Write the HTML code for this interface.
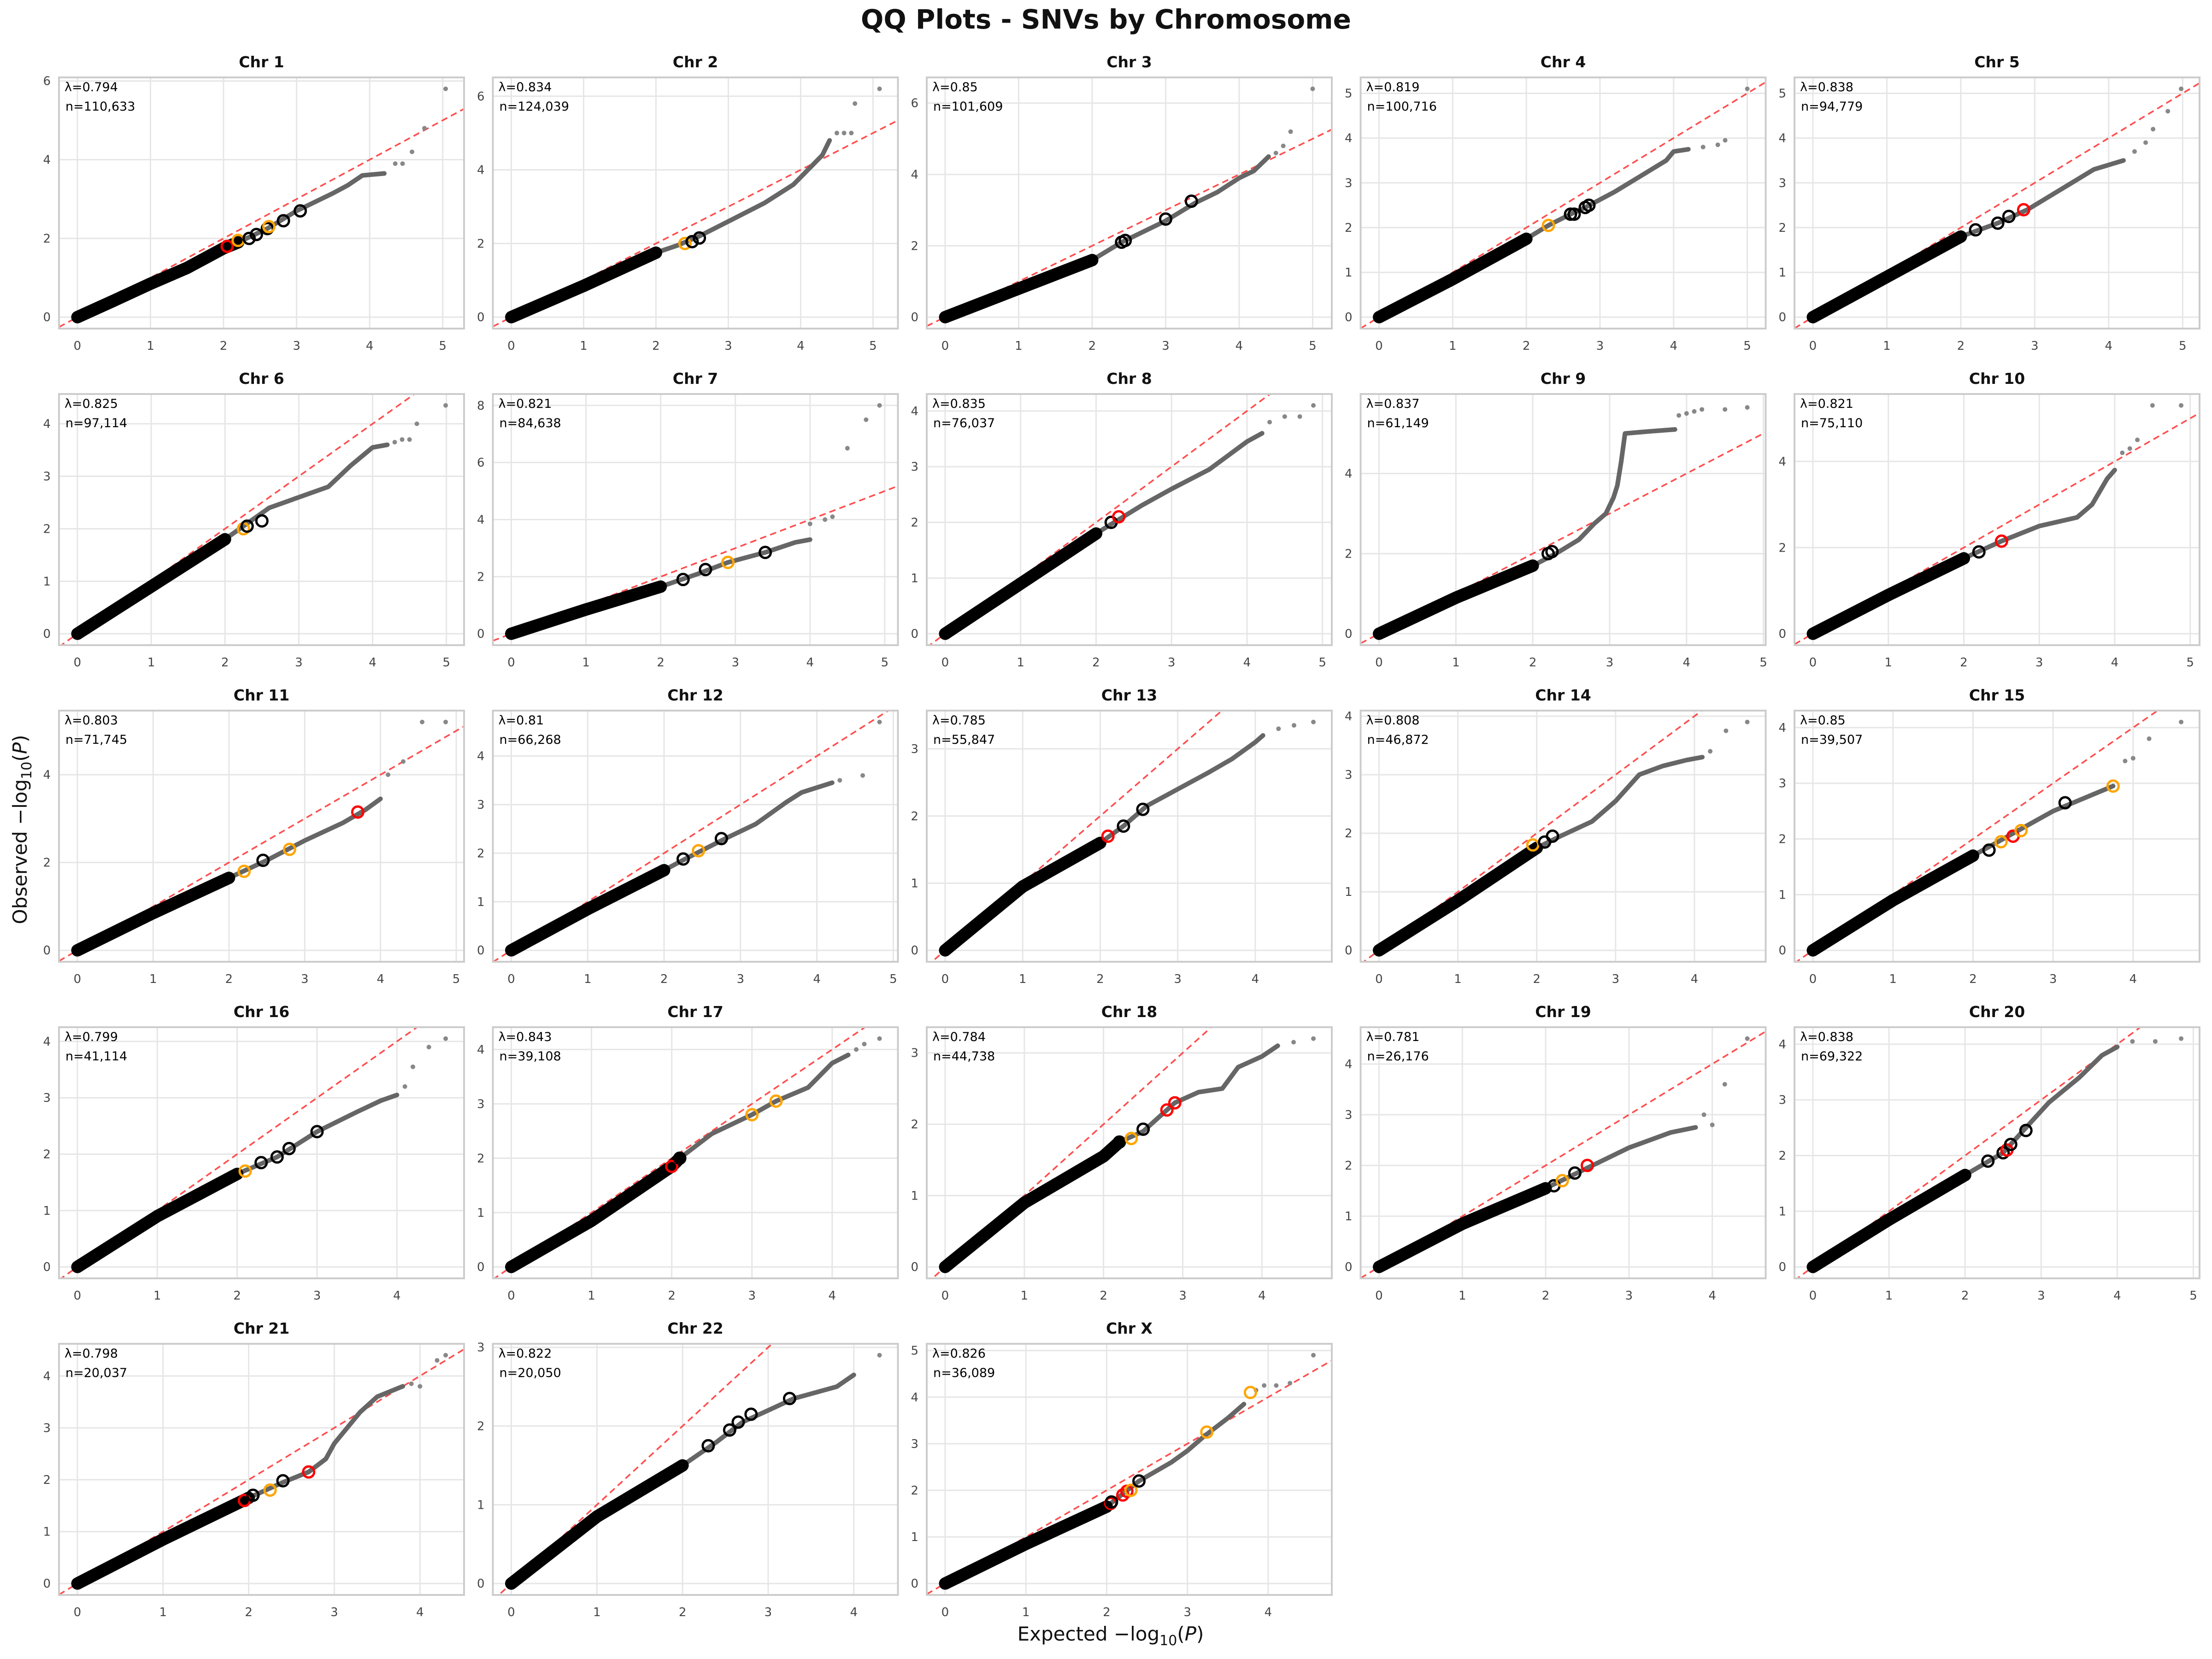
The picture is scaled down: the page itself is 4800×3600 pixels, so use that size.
<!DOCTYPE html>
<html><head><meta charset="utf-8">
<style>
html,body{margin:0;padding:0;background:#fff;}
svg{display:block;font-family:"DejaVu Sans","Liberation Sans",sans-serif;}
</style></head>
<body>
<svg id="fig" width="4800" height="3600" viewBox="0 0 4800 3600" xmlns="http://www.w3.org/2000/svg">
<rect x="0" y="0" width="4800" height="3600" fill="#fff"/>
<text x="2400" y="62" text-anchor="middle" font-size="58" font-weight="bold" fill="#111">QQ Plots - SNVs by Chromosome</text>
<text x="2410" y="3560" text-anchor="middle" font-size="42" fill="#111">Expected −log<tspan font-size="30" dy="10">10</tspan><tspan dy="-10">(</tspan><tspan font-style="italic">P</tspan>)</text>
<text transform="translate(58,1800) rotate(-90)" text-anchor="middle" font-size="42" fill="#111">Observed −log<tspan font-size="30" dy="10">10</tspan><tspan dy="-10">(</tspan><tspan font-style="italic">P</tspan>)</text>
<g id="panels"></g>
</svg>
<script>
const chromNames = ["Chr 1","Chr 2","Chr 3","Chr 4","Chr 5","Chr 6","Chr 7","Chr 8","Chr 9","Chr 10","Chr 11","Chr 12","Chr 13","Chr 14","Chr 15","Chr 16","Chr 17","Chr 18","Chr 19","Chr 20","Chr 21","Chr 22","Chr X"];
const lambdaLabels = ["0.794","0.834","0.85","0.819","0.838","0.825","0.821","0.835","0.837","0.821","0.803","0.81","0.785","0.808","0.85","0.799","0.843","0.784","0.781","0.838","0.798","0.822","0.826"];
const nLabels = ["110,633","124,039","101,609","100,716","94,779","97,114","84,638","76,037","61,149","75,110","71,745","66,268","55,847","46,872","39,507","41,114","39,108","44,738","26,176","69,322","20,037","20,050","36,089"];
const maxExpected = [5.04,5.09,5.01,5.0,4.98,4.99,4.93,4.88,4.79,4.88,4.86,4.82,4.75,4.67,4.6,4.61,4.59,4.65,4.42,4.84,4.3,4.3,4.56];
const maxObserved = [5.8,6.2,6.4,5.1,5.1,4.35,8.0,4.1,5.7,5.3,5.2,4.7,3.4,3.9,4.1,4.05,4.2,3.2,4.5,4.1,4.4,2.9,4.9];
const yTickStep = [2,2,2,1,1,1,2,1,2,2,2,1,1,1,1,1,1,1,1,1,1,1,1];
const curveExp = [
 [0,0.5,1,1.5,2,2.2,2.6,3,3.5,3.7,3.9,4.2],
 [0,1,2,2.3,2.6,3,3.5,3.9,4.1,4.3,4.4],
 [0,1,2,2.4,3,3.4,3.7,4,4.2,4.4],
 [0,1,2,2.3,2.6,2.8,3.2,3.6,3.9,4,4.2],
 [0,1,2,2.5,2.9,3.5,3.8,4,4.2],
 [0,1,2,2.3,2.6,3,3.4,3.7,4,4.2],
 [0,1,2,2.5,2.9,3.4,3.8,4],
 [0,1,2,2.3,2.6,3,3.5,4,4.2],
 [0,1,2,2.3,2.6,2.8,2.95,3.05,3.1,3.15,3.2,3.5,3.85],
 [0,1,2,2.5,3,3.5,3.7,3.9,4],
 [0,1,2,2.5,3,3.5,3.8,4],
 [0,1,2,2.3,2.8,3.2,3.6,3.8,4.2],
 [0,1,2,2.3,2.6,3,3.4,3.7,4,4.1],
 [0,1,2,2.3,2.7,3,3.3,3.6,3.9,4.1],
 [0,1,1.5,2,2.5,3,3.5,3.75],
 [0,1,2,2.5,3,3.5,3.8,4],
 [0,1,2,2.1,2.5,3,3.3,3.7,4,4.2],
 [0,1,2,2.2,2.5,2.9,3.2,3.5,3.7,4,4.2],
 [0,1,2,2.5,3,3.5,3.8],
 [0,1,2,2.5,2.8,3.1,3.5,3.8,4],
 [0,1,2,2.4,2.7,2.9,3,3.3,3.5,3.8],
 [0,1,2,2.4,2.7,3,3.3,3.8,4],
 [0,1,2,2.4,2.8,3,3.2,3.5,3.7]
];
const curveObs = [
 [0,0.42,0.85,1.25,1.75,1.9,2.25,2.7,3.15,3.35,3.6,3.65],
 [0,0.85,1.75,1.95,2.2,2.6,3.1,3.6,4.0,4.4,4.8],
 [0,0.8,1.6,2.1,2.7,3.2,3.5,3.9,4.1,4.5],
 [0,0.85,1.75,2.05,2.3,2.45,2.8,3.2,3.5,3.7,3.75],
 [0,0.9,1.8,2.1,2.4,3.0,3.3,3.4,3.5],
 [0,0.9,1.8,2.1,2.4,2.6,2.8,3.2,3.55,3.6],
 [0,0.85,1.65,2.1,2.5,2.85,3.2,3.3],
 [0,0.9,1.8,2.05,2.3,2.6,2.95,3.45,3.6],
 [0,0.9,1.7,2.0,2.35,2.75,3.0,3.4,3.7,4.3,5.0,5.05,5.1],
 [0,0.9,1.75,2.15,2.5,2.7,3.0,3.6,3.8],
 [0,0.85,1.65,2.05,2.5,2.9,3.2,3.45],
 [0,0.85,1.65,1.9,2.3,2.6,3.05,3.25,3.45],
 [0,0.95,1.6,1.85,2.15,2.4,2.65,2.85,3.1,3.2],
 [0,0.85,1.75,1.95,2.2,2.55,3.0,3.15,3.25,3.3],
 [0,0.9,1.3,1.7,2.1,2.5,2.8,2.95],
 [0,0.9,1.65,1.95,2.4,2.75,2.95,3.05],
 [0,0.85,1.85,2.0,2.45,2.8,3.05,3.3,3.75,3.9],
 [0,0.9,1.55,1.75,1.9,2.3,2.45,2.5,2.8,2.95,3.1],
 [0,0.85,1.55,1.95,2.35,2.65,2.75],
 [0,0.85,1.65,2.05,2.5,2.95,3.4,3.8,3.95],
 [0,0.85,1.65,1.95,2.15,2.4,2.7,3.3,3.6,3.8],
 [0,0.85,1.5,1.8,2.05,2.2,2.35,2.5,2.65],
 [0,0.85,1.65,2.2,2.6,2.85,3.15,3.55,3.85]
];
const tailExp = [
 [4.35,4.45,4.58,4.75,5.04],[4.5,4.6,4.7,4.75,5.09],[4.5,4.6,4.7,5.0],[4.4,4.6,4.7,5.0],[4.35,4.5,4.6,4.8,4.98],
 [4.3,4.4,4.5,4.6,4.99],[4.0,4.2,4.3,4.5,4.75,4.93],[4.3,4.5,4.7,4.88],[3.9,4.0,4.1,4.2,4.5,4.79],[4.1,4.2,4.3,4.5,4.88],
 [4.1,4.3,4.55,4.86],[4.3,4.6,4.82],[4.3,4.5,4.75],[4.2,4.4,4.67],[3.9,4.0,4.2,4.6],
 [4.1,4.2,4.4,4.61],[4.3,4.4,4.59],[4.4,4.65],[3.9,4.0,4.15,4.42],[4.2,4.5,4.84],
 [3.9,4.0,4.2,4.3],[4.3],[3.85,3.95,4.1,4.27,4.56]
];
const tailObs = [
 [3.9,3.9,4.2,4.8,5.8],[5.0,5.0,5.0,5.8,6.2],[4.6,4.8,5.2,6.4],[3.8,3.85,3.95,5.1],[3.7,3.9,4.2,4.6,5.1],
 [3.65,3.7,3.7,4.0,4.35],[3.85,4.0,4.1,6.5,7.5,8.0],[3.8,3.9,3.9,4.1],[5.45,5.5,5.55,5.6,5.6,5.65],[4.2,4.3,4.5,5.3,5.3],
 [4.0,4.3,5.2,5.2],[3.5,3.6,4.7],[3.3,3.35,3.4],[3.4,3.75,3.9],[3.4,3.45,3.8,4.1],
 [3.2,3.55,3.9,4.05],[4.0,4.1,4.2],[3.15,3.2],[3.0,2.8,3.6,4.5],[4.05,4.05,4.1],
 [3.85,3.8,4.3,4.4],[2.9],[4.15,4.25,4.25,4.3,4.9]
];
const hitExp = [
 [2.05,2.2,2.35,2.45,2.6,2.62,2.82,3.05],[2.4,2.5,2.6],[2.4,2.45,3.0,3.35],[2.3,2.6,2.65,2.8,2.85],[2.2,2.5,2.65,2.85],
 [2.25,2.3,2.5],[2.3,2.6,2.9,3.4],[2.2,2.3],[2.2,2.25],[2.2,2.5],
 [2.2,2.45,2.8,3.7],[2.25,2.45,2.75],[2.1,2.3,2.55],[1.95,2.1,2.2],[2.2,2.35,2.5,2.6,3.15,3.75],
 [2.1,2.3,2.5,2.65,3.0],[2.0,2.1,3.0,3.3],[2.2,2.35,2.5,2.8,2.9],[2.1,2.2,2.35,2.5],[2.3,2.5,2.55,2.6,2.8],
 [1.95,2.05,2.25,2.4,2.7],[2.3,2.55,2.65,2.8,3.25],[2.05,2.06,2.2,2.25,2.3,2.4,3.24,3.78]
];
const hitObs = [
 [1.8,1.95,2.0,2.1,2.25,2.3,2.45,2.7],[2.0,2.05,2.15],[2.1,2.15,2.75,3.25],[2.05,2.3,2.3,2.45,2.5],[1.95,2.1,2.25,2.4],
 [2.0,2.05,2.15],[1.9,2.25,2.5,2.85],[2.0,2.1],[2.0,2.05],[1.9,2.15],
 [1.8,2.05,2.3,3.15],[1.88,2.05,2.3],[1.7,1.85,2.1],[1.8,1.85,1.95],[1.8,1.95,2.05,2.15,2.65,2.95],
 [1.7,1.85,1.95,2.1,2.4],[1.85,2.0,2.8,3.05],[1.75,1.8,1.93,2.2,2.3],[1.6,1.7,1.85,2.0],[1.9,2.05,2.1,2.2,2.45],
 [1.6,1.7,1.8,1.98,2.15],[1.75,1.95,2.05,2.15,2.35],[1.72,1.75,1.9,1.98,2.0,2.2,3.25,4.1]
];
const hitColor = [
 ["red","orange","black","black","black","orange","black","black"],["orange","black","black"],["black","black","black","black"],["orange","black","black","black","black"],["black","black","black","red"],
 ["orange","black","black"],["black","black","orange","black"],["black","red"],["black","black"],["black","red"],
 ["orange","black","orange","red"],["black","orange","black"],["red","black","black"],["orange","black","black"],["black","orange","red","orange","black","orange"],
 ["orange","black","black","black","black"],["red","black","orange","orange"],["black","orange","black","red","red"],["black","orange","black","red"],["black","black","red","black","black"],
 ["red","black","orange","black","red"],["black","black","black","black","black"],["red","black","red","red","orange","black","orange","orange"]
];
const colorMap = {black:"#000000", orange:"#ffa500", red:"#ff0000"};
const denseLimit = 2.25;

const NS = "http://www.w3.org/2000/svg";
const root = document.getElementById('panels');
function mk(tag, attrs, parent){ const e=document.createElementNS(NS,tag); for(const k in attrs) e.setAttribute(k,attrs[k]); (parent||root).appendChild(e); return e; }

const L0=128, T0=168, DX=941.5, DY=687, W=879, H=545;

chromNames.forEach((name,i)=>{
  const col=i%5, row=Math.floor(i/5);
  const left=L0+col*DX, top=T0+row*DY;
  const X=maxExpected[i], Y=maxObserved[i];
  const xlo=-0.05*X, xhi=1.05*X, ylo=-0.05*Y, yhi=1.05*Y;
  const sx=v=>left+(v-xlo)/(xhi-xlo)*W;
  const sy=v=>top+H-(v-ylo)/(yhi-ylo)*H;
  const g=mk('g',{});
  
  
  const cid='clip'+i;
  const cp=mk('clipPath',{id:cid},g); mk('rect',{x:left,y:top,width:W,height:H},cp);
  for(let t=0;t<=xhi;t+=1){
    mk('line',{x1:sx(t),x2:sx(t),y1:top,y2:top+H,stroke:'#e6e6e6','stroke-width':3},g);
    const tx=mk('text',{x:sx(t),y:top+H+46,'text-anchor':'middle','font-size':26,fill:'#444'},g); tx.textContent=t;
    
    
  }
  const st=yTickStep[i];
  for(let t=0;t<=yhi;t+=st){
    mk('line',{x1:left,x2:left+W,y1:sy(t),y2:sy(t),stroke:'#e6e6e6','stroke-width':3},g);
    const ty=mk('text',{x:left-18,y:sy(t)+9,'text-anchor':'end','font-size':26,fill:'#444'},g); ty.textContent=t;
    
    
  }
  const cg=mk('g',{'clip-path':'url(#'+cid+')'},g);
  const dl=mk('line',{x1:sx(xlo),y1:sy(xlo),x2:sx(Math.max(xhi,yhi)),y2:sy(Math.max(xhi,yhi)),stroke:'#ff4d4d','stroke-width':3.5,'stroke-dasharray':'14 9'},cg);
  
  
  const ex=curveExp[i], ob=curveObs[i];
  let dense=[], sparse=[];
  for(let k=0;k<ex.length;k++){
    if(ex[k]<=denseLimit) dense.push([ex[k],ob[k]]);
    else { if(!sparse.length && dense.length) sparse.push(dense[dense.length-1]); sparse.push([ex[k],ob[k]]); }
  }
  const pth=a=>a.map((p,k)=>(k?'L':'M')+sx(p[0]).toFixed(1)+' '+sy(p[1]).toFixed(1)).join(' ');
  if(sparse.length){
    const sp=mk('path',{d:pth(sparse),fill:'none',stroke:'#666','stroke-width':10,'stroke-linecap':'round','stroke-linejoin':'round'},cg);
    
    
  }
  const dp=mk('path',{d:pth(dense),fill:'none',stroke:'#000','stroke-width':27,'stroke-linecap':'round','stroke-linejoin':'round'},cg);
  
  
  tailExp[i].forEach((v,k)=>{
    const c=mk('circle',{cx:sx(v),cy:sy(tailObs[i][k]),r:5,fill:'#888'},cg);
    
    
  });
  hitExp[i].forEach((v,k)=>{
    const c=mk('circle',{cx:sx(v),cy:sy(hitObs[i][k]),r:12,fill:'none',stroke:colorMap[hitColor[i][k]],'stroke-width':5},cg);
    
    
  });
  mk('rect',{x:left,y:top,width:W,height:H,fill:'none',stroke:'#cccccc','stroke-width':4},g);
  const ti=mk('text',{x:left+W/2,y:top-22,'text-anchor':'middle','font-size':33,'font-weight':'bold',fill:'#111'},g); ti.textContent=name;
  
  
  const a1=mk('text',{x:left+12,y:top+30,'font-size':27,fill:'#000'},g); a1.textContent='λ='+lambdaLabels[i];
  
  
  const a2=mk('text',{x:left+14,y:top+72,'font-size':27,fill:'#000'},g); a2.textContent='n='+nLabels[i];
  
  
});
</script>
</body></html>
